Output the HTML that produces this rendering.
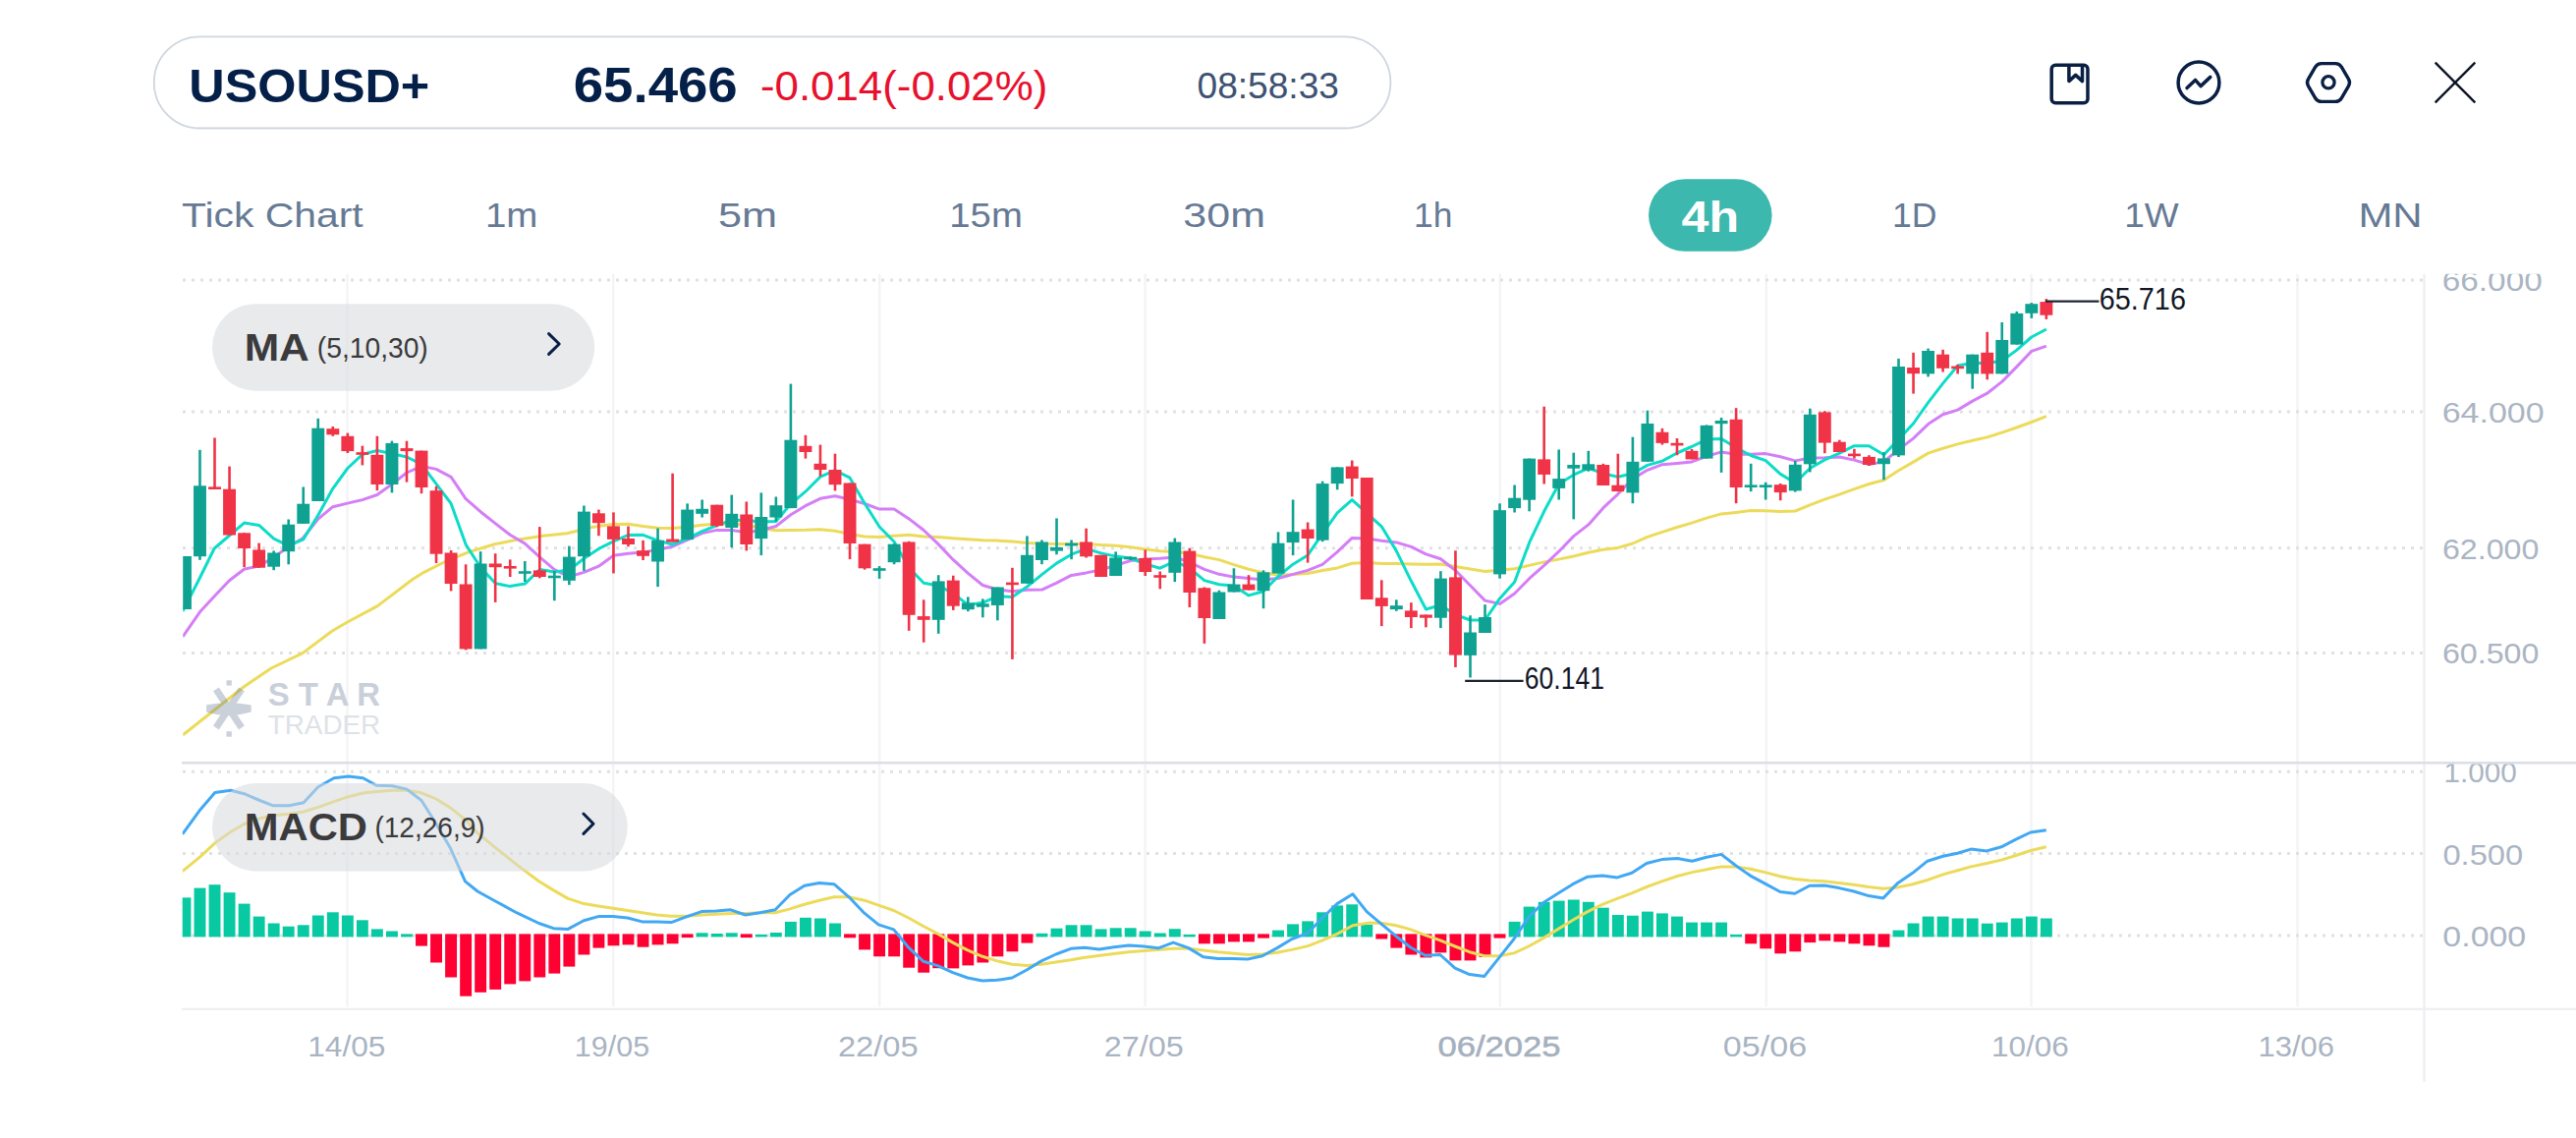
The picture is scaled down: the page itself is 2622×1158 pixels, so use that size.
<!DOCTYPE html><html><head><meta charset="utf-8"><title>USOUSD+ chart</title>
<style>html,body{margin:0;padding:0;background:#fff;overflow:hidden}svg{display:block}</style></head><body>
<svg width="2622" height="1158" viewBox="0 0 2622 1158">
<defs><clipPath id="cp"><rect x="186.2" y="278.75" width="2281" height="497"/></clipPath>
<clipPath id="cm"><rect x="185.7" y="777.5" width="2281" height="249"/></clipPath></defs>
<rect width="2622" height="1158" fill="#fff"/>
<rect x="156.8" y="37.3" width="1258.6" height="93.2" rx="46.6" fill="#fff" stroke="#cfd6df" stroke-width="1.8"/>
<g fill="none" stroke="#0a1f44" stroke-width="3.5" stroke-linejoin="round" stroke-linecap="round">
<rect x="2088.2" y="66.2" width="36.8" height="38.6" rx="4"/>
<path d="M2105.9 67 V82.6 L2112.7 76.4 L2119.5 82.6 V67"/>
<circle cx="2238" cy="84" r="20.9"/>
<path d="M2226 89.6 L2234.5 81.4 L2240 87.6 L2249.8 78.4"/>
<path d="M2349.53 87.62 Q2347.40 84.00 2349.53 80.38 L2356.67 68.22 Q2358.80 64.60 2363.00 64.60 L2377.00 64.60 Q2381.20 64.60 2383.33 68.22 L2390.47 80.38 Q2392.60 84.00 2390.47 87.62 L2383.33 99.78 Q2381.20 103.40 2377.00 103.40 L2363.00 103.40 Q2358.80 103.40 2356.67 99.78 Z" stroke-width="3.4"/>
<circle cx="2370" cy="83.8" r="6.1" stroke-width="3.3"/>
</g>
<g stroke="#0d1526" stroke-width="2.4"><line x1="2478.7" y1="63.7" x2="2519.3" y2="104.3"/><line x1="2519.3" y1="63.7" x2="2478.7" y2="104.3"/></g>
<rect x="1678" y="182.2" width="125.6" height="73.6" rx="36.8" fill="#3db8af"/>
<g stroke="#f4f4f6" stroke-width="2.5">
<line x1="353.5" y1="278.75" x2="353.5" y2="1024.2"/>
<line x1="624.2" y1="278.75" x2="624.2" y2="1024.2"/>
<line x1="895.2" y1="278.75" x2="895.2" y2="1024.2"/>
<line x1="1165.6" y1="278.75" x2="1165.6" y2="1024.2"/>
<line x1="1526.8" y1="278.75" x2="1526.8" y2="1024.2"/>
<line x1="1797.9" y1="278.75" x2="1797.9" y2="1024.2"/>
<line x1="2067.5" y1="278.75" x2="2067.5" y2="1024.2"/>
<line x1="2338.5" y1="278.75" x2="2338.5" y2="1024.2"/>
</g>
<g stroke="#e1e1e4" stroke-width="3" stroke-dasharray="3 6">
<line x1="186" y1="284.9" x2="2466" y2="284.9"/>
<line x1="186" y1="419.1" x2="2466" y2="419.1"/>
<line x1="186" y1="557.8" x2="2466" y2="557.8"/>
<line x1="186" y1="664.5" x2="2466" y2="664.5"/>
<line x1="186" y1="785.3" x2="2466" y2="785.3"/>
<line x1="186" y1="868.5" x2="2466" y2="868.5"/>
<line x1="186" y1="951.9" x2="2466" y2="951.9"/>
</g>
<line x1="2467.5" y1="278.75" x2="2467.5" y2="1101" stroke="#f0f0f3" stroke-width="2.5"/>
<line x1="185" y1="776.3" x2="2622" y2="776.3" stroke="#dcdde7" stroke-width="2.6"/>
<line x1="185" y1="1026.8" x2="2622" y2="1026.8" stroke="#eeeff2" stroke-width="2.2"/>
<g clip-path="url(#cp)">
<polyline points="186.0,748.0 248.3,698.8 276.0,680.0 308.0,664.6 337.5,642.5 352.3,633.8 384.3,616.6 420.0,589.5 429.6,583.4 454.2,571.0 478.8,561.2 503.5,553.8 528.0,548.9 552.7,545.2 577.3,542.8 602.0,536.6 626.5,533.0 624.5,533.6 639.5,533.2 654.5,535.5 669.6,537.3 684.6,537.5 699.6,536.2 714.7,534.2 729.7,533.3 744.7,532.9 759.8,534.3 774.8,537.4 789.8,539.8 804.9,539.4 819.9,539.3 835.0,538.8 850.0,540.2 865.0,543.4 880.1,546.1 895.1,546.6 910.1,545.3 925.2,544.2 940.2,546.1 955.2,546.5 970.3,547.8 985.3,548.8 1000.3,549.7 1015.4,550.1 1030.4,551.0 1045.4,552.5 1060.5,553.2 1075.5,553.4 1090.5,553.4 1105.6,553.4 1120.6,554.6 1135.7,555.2 1150.7,556.8 1165.7,558.9 1180.8,560.7 1195.8,561.6 1210.8,563.3 1225.9,566.7 1240.9,569.6 1255.9,574.6 1271.0,579.3 1286.0,582.9 1301.0,584.9 1316.1,584.5 1331.1,583.5 1346.1,580.5 1361.2,577.9 1376.2,573.2 1391.2,572.6 1406.3,573.4 1421.3,573.4 1436.4,573.9 1451.4,574.3 1466.4,574.0 1481.5,576.4 1496.5,579.0 1511.5,581.5 1526.6,580.3 1541.6,578.7 1556.6,575.4 1571.7,571.9 1586.7,569.1 1601.7,566.0 1616.8,562.3 1631.8,559.2 1646.8,557.4 1661.9,553.0 1676.9,546.3 1692.0,541.3 1707.0,536.5 1722.0,532.1 1737.1,527.1 1752.1,522.9 1767.1,521.4 1782.2,519.6 1797.2,519.7 1812.2,520.5 1827.3,520.0 1842.3,513.8 1857.3,508.2 1872.4,503.1 1887.4,497.7 1902.4,492.5 1917.5,488.5 1932.5,478.8 1947.5,470.1 1962.6,461.1 1977.6,456.3 1992.7,451.9 2007.7,448.3 2022.7,444.9 2037.8,440.1 2052.8,435.0 2067.8,429.5 2082.9,423.7" fill="none" stroke="#ecdb5b" stroke-width="3" stroke-linejoin="round"/>
<polyline points="186.0,648.0 203.4,622.8 218.2,606.8 233.4,590.8 248.4,579.2 263.4,576.0 278.5,567.4 293.5,556.3 308.2,547.7 323.8,528.1 338.8,515.7 353.8,512.1 368.9,508.6 383.9,503.5 398.9,492.8 414.0,481.0 429.0,474.4 444.0,477.4 459.1,485.4 474.1,507.6 489.1,520.7 504.2,532.6 519.2,544.2 534.3,553.1 549.3,566.8 564.3,579.6 579.4,586.8 594.4,582.4 609.4,576.2 624.5,565.2 639.5,563.2 654.5,562.1 669.6,559.2 684.6,556.2 699.6,549.4 714.7,542.6 729.7,539.4 744.7,539.6 759.8,541.8 774.8,539.5 789.8,535.5 804.9,523.7 819.9,514.7 835.0,507.3 850.0,504.8 865.0,508.3 880.1,512.5 895.1,518.1 910.1,518.0 925.2,527.9 940.2,539.5 955.2,553.9 970.3,569.7 985.3,583.3 1000.3,595.5 1015.4,600.0 1030.4,601.7 1045.4,600.3 1060.5,600.1 1075.5,593.2 1090.5,585.4 1105.6,582.9 1120.6,579.9 1135.7,575.3 1150.7,570.6 1165.7,569.0 1180.8,568.3 1195.8,567.0 1210.8,572.1 1225.9,579.3 1240.9,584.3 1255.9,587.1 1271.0,588.5 1286.0,589.9 1301.0,588.5 1316.1,584.4 1331.1,580.4 1346.1,574.4 1361.2,561.6 1376.2,547.4 1391.2,548.1 1406.3,550.3 1421.3,551.9 1436.4,556.4 1451.4,563.9 1466.4,568.7 1481.5,580.5 1496.5,595.7 1511.5,611.1 1526.6,614.4 1541.6,604.0 1556.6,588.7 1571.7,575.3 1586.7,561.2 1601.7,545.6 1616.8,533.9 1631.8,516.9 1646.8,502.8 1661.9,487.1 1676.9,478.3 1692.0,472.7 1707.0,471.4 1722.0,469.9 1737.1,464.4 1752.1,459.9 1767.1,462.3 1782.2,462.2 1797.2,461.6 1812.2,464.7 1827.3,468.9 1842.3,466.0 1857.3,465.7 1872.4,465.0 1887.4,468.1 1902.4,472.6 1917.5,469.6 1932.5,457.5 1947.5,446.1 1962.6,431.6 1977.6,421.8 1992.7,417.1 2007.7,408.1 2022.7,400.2 2037.8,388.4 2052.8,373.1 2067.8,357.4 2082.9,352.2" fill="none" stroke="#d47ef7" stroke-width="3" stroke-linejoin="round"/>
<polyline points="186.0,622.0 203.4,588.0 218.2,558.0 233.4,545.0 248.6,532.1 263.6,534.4 278.7,548.1 293.7,555.3 308.7,548.9 323.8,524.2 338.8,497.1 353.8,476.5 368.9,462.4 383.9,458.5 398.9,461.6 414.0,465.0 429.0,472.3 444.0,492.4 459.1,512.4 474.1,554.1 489.1,577.2 504.2,593.6 519.2,596.6 534.3,594.1 549.3,579.6 564.3,582.1 579.4,580.0 594.4,568.3 609.4,558.4 624.5,550.8 639.5,544.4 654.5,544.3 669.6,550.1 684.6,554.0 699.6,547.9 714.7,540.7 729.7,534.6 744.7,529.2 759.8,529.6 774.8,531.1 789.8,530.4 804.9,512.8 819.9,500.2 835.0,485.1 850.0,478.6 865.0,486.2 880.1,512.3 895.1,536.0 910.1,551.2 925.2,577.8 940.2,593.3 955.2,596.0 970.3,603.6 985.3,615.6 1000.3,613.3 1015.4,606.7 1030.4,607.4 1045.4,597.0 1060.5,584.6 1075.5,573.1 1090.5,564.2 1105.6,558.4 1120.6,562.9 1135.7,566.1 1150.7,568.0 1165.7,573.9 1180.8,578.2 1195.8,571.1 1210.8,578.2 1225.9,590.6 1240.9,594.7 1255.9,596.0 1271.0,605.9 1286.0,601.8 1301.0,586.5 1316.1,574.2 1331.1,564.9 1346.1,543.2 1361.2,521.8 1376.2,508.6 1391.2,522.2 1406.3,535.8 1421.3,560.6 1436.4,591.3 1451.4,620.0 1466.4,615.7 1481.5,625.5 1496.5,631.0 1511.5,631.0 1526.6,608.9 1541.6,592.3 1556.6,552.2 1571.7,520.3 1586.7,492.5 1601.7,483.2 1616.8,476.4 1631.8,481.9 1646.8,485.3 1661.9,481.8 1676.9,473.4 1692.0,469.1 1707.0,461.0 1722.0,454.5 1737.1,447.1 1752.1,446.5 1767.1,455.5 1782.2,463.5 1797.2,468.7 1812.2,482.4 1827.3,491.4 1842.3,476.5 1857.3,467.9 1872.4,461.2 1887.4,453.7 1902.4,453.8 1917.5,462.7 1932.5,447.1 1947.5,431.0 1962.6,409.6 1977.6,390.1 1992.7,372.0 2007.7,369.5 2022.7,369.5 2037.8,367.3 2052.8,356.1 2067.8,343.0 2082.9,335.0" fill="none" stroke="#0cdcc8" stroke-width="3" stroke-linejoin="round"/>
<g fill="rgb(106,126,155)" stroke="rgb(106,126,155)" opacity="0.35">
<path stroke="none" d="M210.1 717.3 Q232.6 713.1 255.7 717.5 L255.7 724.6 Q232.6 731.6 210.1 724.8 Z"/>
<line x1="219.9" y1="701.4" x2="245.9" y2="740.5" stroke-width="7" fill="none"/>
<line x1="245.9" y1="701.4" x2="219.9" y2="740.5" stroke-width="7" fill="none"/>
<rect stroke="none" x="230.5" y="692.3" width="5.3" height="5.3"/><rect stroke="none" x="230.5" y="744.2" width="5.3" height="5.5"/>
</g>
<rect x="187.15" y="566.0" width="2.6" height="54.0" fill="#0fa292"/>
<rect x="182.00" y="566.0" width="12.9" height="54.0" fill="#0fa292"/>
<rect x="202.18" y="457.8" width="2.6" height="112.0" fill="#0fa292"/>
<rect x="197.03" y="494.3" width="12.9" height="71.9" fill="#0fa292"/>
<rect x="217.22" y="445.5" width="2.6" height="52.5" fill="#f03346"/>
<rect x="212.07" y="495.4" width="12.9" height="2.6" fill="#f03346"/>
<rect x="232.25" y="474.6" width="2.6" height="69.9" fill="#f03346"/>
<rect x="227.11" y="497.7" width="12.9" height="46.8" fill="#f03346"/>
<rect x="247.29" y="542.3" width="2.6" height="34.9" fill="#f03346"/>
<rect x="242.14" y="542.3" width="12.9" height="15.7" fill="#f03346"/>
<rect x="262.32" y="552.6" width="2.6" height="25.1" fill="#f03346"/>
<rect x="257.18" y="559.5" width="12.9" height="18.2" fill="#f03346"/>
<rect x="277.36" y="560.5" width="2.6" height="19.7" fill="#0fa292"/>
<rect x="272.21" y="562.5" width="12.9" height="14.2" fill="#0fa292"/>
<rect x="292.39" y="528.5" width="2.6" height="45.8" fill="#0fa292"/>
<rect x="287.25" y="533.7" width="12.9" height="27.5" fill="#0fa292"/>
<rect x="307.43" y="495.5" width="2.6" height="37.4" fill="#0fa292"/>
<rect x="302.28" y="512.7" width="12.9" height="20.2" fill="#0fa292"/>
<rect x="322.46" y="425.8" width="2.6" height="84.2" fill="#0fa292"/>
<rect x="317.31" y="435.7" width="12.9" height="74.3" fill="#0fa292"/>
<rect x="337.50" y="434.0" width="2.6" height="9.8" fill="#f03346"/>
<rect x="332.35" y="436.2" width="12.9" height="6.1" fill="#f03346"/>
<rect x="352.53" y="440.6" width="2.6" height="20.4" fill="#f03346"/>
<rect x="347.38" y="443.8" width="12.9" height="15.3" fill="#f03346"/>
<rect x="367.57" y="453.7" width="2.6" height="19.7" fill="#f03346"/>
<rect x="362.42" y="460.2" width="12.9" height="2.6" fill="#f03346"/>
<rect x="382.60" y="443.8" width="2.6" height="55.4" fill="#f03346"/>
<rect x="377.45" y="462.8" width="12.9" height="30.2" fill="#f03346"/>
<rect x="397.64" y="448.7" width="2.6" height="52.7" fill="#0fa292"/>
<rect x="392.49" y="451.0" width="12.9" height="42.0" fill="#0fa292"/>
<rect x="412.68" y="448.7" width="2.6" height="41.9" fill="#f03346"/>
<rect x="407.53" y="456.1" width="12.9" height="3.0" fill="#f03346"/>
<rect x="427.71" y="458.6" width="2.6" height="43.6" fill="#f03346"/>
<rect x="422.56" y="458.6" width="12.9" height="37.4" fill="#f03346"/>
<rect x="442.74" y="494.8" width="2.6" height="78.2" fill="#f03346"/>
<rect x="437.59" y="499.2" width="12.9" height="64.5" fill="#f03346"/>
<rect x="457.78" y="560.0" width="2.6" height="41.4" fill="#f03346"/>
<rect x="452.63" y="562.5" width="12.9" height="31.5" fill="#f03346"/>
<rect x="472.81" y="574.3" width="2.6" height="87.1" fill="#f03346"/>
<rect x="467.67" y="594.5" width="12.9" height="65.9" fill="#f03346"/>
<rect x="487.85" y="561.2" width="2.6" height="99.2" fill="#0fa292"/>
<rect x="482.70" y="573.5" width="12.9" height="86.9" fill="#0fa292"/>
<rect x="502.88" y="563.2" width="2.6" height="49.7" fill="#f03346"/>
<rect x="497.74" y="573.5" width="12.9" height="3.7" fill="#f03346"/>
<rect x="517.92" y="569.4" width="2.6" height="17.6" fill="#f03346"/>
<rect x="512.77" y="576.0" width="12.9" height="2.6" fill="#f03346"/>
<rect x="532.96" y="571.0" width="2.6" height="21.0" fill="#0fa292"/>
<rect x="527.80" y="581.2" width="12.9" height="2.6" fill="#0fa292"/>
<rect x="547.99" y="536.1" width="2.6" height="52.2" fill="#f03346"/>
<rect x="542.84" y="580.4" width="12.9" height="6.6" fill="#f03346"/>
<rect x="563.03" y="580.9" width="2.6" height="30.3" fill="#0fa292"/>
<rect x="557.88" y="585.7" width="12.9" height="2.6" fill="#0fa292"/>
<rect x="578.06" y="555.6" width="2.6" height="39.6" fill="#0fa292"/>
<rect x="572.91" y="566.6" width="12.9" height="24.2" fill="#0fa292"/>
<rect x="593.10" y="514.5" width="2.6" height="66.4" fill="#0fa292"/>
<rect x="587.94" y="520.6" width="12.9" height="45.6" fill="#0fa292"/>
<rect x="608.13" y="518.6" width="2.6" height="26.6" fill="#f03346"/>
<rect x="602.98" y="522.3" width="12.9" height="9.9" fill="#f03346"/>
<rect x="623.16" y="521.4" width="2.6" height="62.0" fill="#f03346"/>
<rect x="618.01" y="535.4" width="12.9" height="13.5" fill="#f03346"/>
<rect x="638.20" y="535.5" width="2.6" height="20.7" fill="#f03346"/>
<rect x="633.05" y="548.0" width="12.9" height="6.0" fill="#f03346"/>
<rect x="653.24" y="549.8" width="2.6" height="20.2" fill="#f03346"/>
<rect x="648.08" y="560.2" width="12.9" height="5.6" fill="#f03346"/>
<rect x="668.27" y="537.5" width="2.6" height="59.6" fill="#0fa292"/>
<rect x="663.12" y="549.8" width="12.9" height="21.7" fill="#0fa292"/>
<rect x="683.31" y="481.7" width="2.6" height="69.9" fill="#f03346"/>
<rect x="678.15" y="548.6" width="12.9" height="3.0" fill="#f03346"/>
<rect x="698.34" y="512.4" width="2.6" height="36.7" fill="#0fa292"/>
<rect x="693.19" y="518.6" width="12.9" height="30.5" fill="#0fa292"/>
<rect x="713.38" y="508.5" width="2.6" height="18.0" fill="#0fa292"/>
<rect x="708.22" y="517.8" width="12.9" height="5.0" fill="#0fa292"/>
<rect x="728.41" y="513.7" width="2.6" height="22.6" fill="#f03346"/>
<rect x="723.26" y="513.7" width="12.9" height="21.4" fill="#f03346"/>
<rect x="743.44" y="503.6" width="2.6" height="53.6" fill="#0fa292"/>
<rect x="738.29" y="522.8" width="12.9" height="14.2" fill="#0fa292"/>
<rect x="758.48" y="510.5" width="2.6" height="49.9" fill="#f03346"/>
<rect x="753.33" y="523.5" width="12.9" height="30.5" fill="#f03346"/>
<rect x="773.52" y="501.4" width="2.6" height="63.7" fill="#0fa292"/>
<rect x="768.37" y="526.0" width="12.9" height="22.1" fill="#0fa292"/>
<rect x="788.55" y="505.5" width="2.6" height="25.1" fill="#0fa292"/>
<rect x="783.40" y="514.2" width="12.9" height="12.3" fill="#0fa292"/>
<rect x="803.59" y="390.6" width="2.6" height="126.5" fill="#0fa292"/>
<rect x="798.43" y="447.7" width="12.9" height="69.4" fill="#0fa292"/>
<rect x="818.62" y="442.8" width="2.6" height="23.8" fill="#f03346"/>
<rect x="813.47" y="453.8" width="12.9" height="6.2" fill="#f03346"/>
<rect x="833.65" y="452.6" width="2.6" height="32.0" fill="#f03346"/>
<rect x="828.50" y="471.8" width="12.9" height="6.2" fill="#f03346"/>
<rect x="848.69" y="461.7" width="2.6" height="37.7" fill="#f03346"/>
<rect x="843.54" y="478.0" width="12.9" height="15.2" fill="#f03346"/>
<rect x="863.73" y="491.5" width="2.6" height="77.6" fill="#f03346"/>
<rect x="858.58" y="491.5" width="12.9" height="61.5" fill="#f03346"/>
<rect x="878.76" y="553.7" width="2.6" height="25.9" fill="#f03346"/>
<rect x="873.61" y="553.7" width="12.9" height="24.6" fill="#f03346"/>
<rect x="893.80" y="576.1" width="2.6" height="12.8" fill="#0fa292"/>
<rect x="888.64" y="578.2" width="12.9" height="2.6" fill="#0fa292"/>
<rect x="908.83" y="553.2" width="2.6" height="21.0" fill="#0fa292"/>
<rect x="903.68" y="553.7" width="12.9" height="18.5" fill="#0fa292"/>
<rect x="923.87" y="550.8" width="2.6" height="91.0" fill="#f03346"/>
<rect x="918.71" y="551.5" width="12.9" height="74.3" fill="#f03346"/>
<rect x="938.90" y="610.3" width="2.6" height="43.4" fill="#f03346"/>
<rect x="933.75" y="627.1" width="12.9" height="3.7" fill="#f03346"/>
<rect x="953.93" y="585.2" width="2.6" height="59.6" fill="#0fa292"/>
<rect x="948.78" y="591.4" width="12.9" height="39.4" fill="#0fa292"/>
<rect x="968.97" y="585.7" width="2.6" height="35.2" fill="#f03346"/>
<rect x="963.82" y="590.6" width="12.9" height="26.1" fill="#f03346"/>
<rect x="984.01" y="607.4" width="2.6" height="14.8" fill="#0fa292"/>
<rect x="978.86" y="613.5" width="12.9" height="6.7" fill="#0fa292"/>
<rect x="999.04" y="609.4" width="2.6" height="18.9" fill="#0fa292"/>
<rect x="993.89" y="614.3" width="12.9" height="3.4" fill="#0fa292"/>
<rect x="1014.08" y="597.5" width="2.6" height="33.8" fill="#0fa292"/>
<rect x="1008.92" y="597.5" width="12.9" height="18.5" fill="#0fa292"/>
<rect x="1029.11" y="577.8" width="2.6" height="93.1" fill="#f03346"/>
<rect x="1023.96" y="592.6" width="12.9" height="2.6" fill="#f03346"/>
<rect x="1044.14" y="545.4" width="2.6" height="48.4" fill="#0fa292"/>
<rect x="1038.99" y="564.8" width="12.9" height="29.0" fill="#0fa292"/>
<rect x="1059.18" y="549.5" width="2.6" height="24.7" fill="#0fa292"/>
<rect x="1054.03" y="551.5" width="12.9" height="18.5" fill="#0fa292"/>
<rect x="1074.22" y="527.4" width="2.6" height="36.9" fill="#0fa292"/>
<rect x="1069.07" y="556.9" width="12.9" height="3.7" fill="#0fa292"/>
<rect x="1089.25" y="549.5" width="2.6" height="19.7" fill="#0fa292"/>
<rect x="1084.10" y="552.7" width="12.9" height="2.8" fill="#0fa292"/>
<rect x="1104.29" y="537.7" width="2.6" height="29.8" fill="#f03346"/>
<rect x="1099.13" y="551.5" width="12.9" height="14.8" fill="#f03346"/>
<rect x="1119.32" y="564.8" width="2.6" height="22.2" fill="#f03346"/>
<rect x="1114.17" y="564.8" width="12.9" height="22.2" fill="#f03346"/>
<rect x="1134.36" y="561.4" width="2.6" height="24.6" fill="#0fa292"/>
<rect x="1129.20" y="567.5" width="12.9" height="18.5" fill="#0fa292"/>
<rect x="1149.39" y="566.3" width="2.6" height="3.7" fill="#0fa292"/>
<rect x="1144.24" y="566.7" width="12.9" height="2.6" fill="#0fa292"/>
<rect x="1164.42" y="559.4" width="2.6" height="26.6" fill="#f03346"/>
<rect x="1159.27" y="568.0" width="12.9" height="14.0" fill="#f03346"/>
<rect x="1179.46" y="581.5" width="2.6" height="17.8" fill="#f03346"/>
<rect x="1174.31" y="585.2" width="12.9" height="2.6" fill="#f03346"/>
<rect x="1194.50" y="547.6" width="2.6" height="44.5" fill="#0fa292"/>
<rect x="1189.35" y="551.5" width="12.9" height="31.3" fill="#0fa292"/>
<rect x="1209.53" y="557.7" width="2.6" height="60.3" fill="#f03346"/>
<rect x="1204.38" y="560.6" width="12.9" height="42.4" fill="#f03346"/>
<rect x="1224.57" y="597.5" width="2.6" height="57.4" fill="#f03346"/>
<rect x="1219.41" y="598.3" width="12.9" height="30.7" fill="#f03346"/>
<rect x="1239.60" y="600.7" width="2.6" height="29.3" fill="#0fa292"/>
<rect x="1234.45" y="602.5" width="12.9" height="27.5" fill="#0fa292"/>
<rect x="1254.63" y="578.3" width="2.6" height="24.2" fill="#0fa292"/>
<rect x="1249.48" y="594.6" width="12.9" height="7.9" fill="#0fa292"/>
<rect x="1269.67" y="585.2" width="2.6" height="15.3" fill="#f03346"/>
<rect x="1264.52" y="594.6" width="12.9" height="5.9" fill="#f03346"/>
<rect x="1284.71" y="580.3" width="2.6" height="38.9" fill="#0fa292"/>
<rect x="1279.56" y="582.3" width="12.9" height="18.9" fill="#0fa292"/>
<rect x="1299.74" y="541.4" width="2.6" height="42.1" fill="#0fa292"/>
<rect x="1294.59" y="552.7" width="12.9" height="30.8" fill="#0fa292"/>
<rect x="1314.78" y="508.5" width="2.6" height="56.6" fill="#0fa292"/>
<rect x="1309.62" y="541.2" width="12.9" height="10.9" fill="#0fa292"/>
<rect x="1329.81" y="531.5" width="2.6" height="41.1" fill="#f03346"/>
<rect x="1324.66" y="538.6" width="12.9" height="9.4" fill="#f03346"/>
<rect x="1344.85" y="489.7" width="2.6" height="61.5" fill="#0fa292"/>
<rect x="1339.69" y="492.1" width="12.9" height="57.6" fill="#0fa292"/>
<rect x="1359.88" y="475.4" width="2.6" height="22.9" fill="#0fa292"/>
<rect x="1354.73" y="475.4" width="12.9" height="16.7" fill="#0fa292"/>
<rect x="1374.92" y="468.5" width="2.6" height="36.9" fill="#f03346"/>
<rect x="1369.77" y="474.6" width="12.9" height="12.4" fill="#f03346"/>
<rect x="1389.95" y="486.0" width="2.6" height="124.0" fill="#f03346"/>
<rect x="1384.80" y="486.0" width="12.9" height="124.0" fill="#f03346"/>
<rect x="1404.99" y="590.3" width="2.6" height="46.8" fill="#f03346"/>
<rect x="1399.84" y="608.3" width="12.9" height="8.6" fill="#f03346"/>
<rect x="1420.02" y="610.3" width="2.6" height="11.5" fill="#0fa292"/>
<rect x="1414.87" y="616.2" width="12.9" height="3.9" fill="#0fa292"/>
<rect x="1435.06" y="613.2" width="2.6" height="25.9" fill="#f03346"/>
<rect x="1429.90" y="621.4" width="12.9" height="6.6" fill="#f03346"/>
<rect x="1450.09" y="625.5" width="2.6" height="12.8" fill="#f03346"/>
<rect x="1444.94" y="625.5" width="12.9" height="3.2" fill="#f03346"/>
<rect x="1465.12" y="581.2" width="2.6" height="57.9" fill="#0fa292"/>
<rect x="1459.97" y="588.6" width="12.9" height="40.1" fill="#0fa292"/>
<rect x="1480.16" y="560.3" width="2.6" height="118.7" fill="#f03346"/>
<rect x="1475.01" y="587.4" width="12.9" height="79.2" fill="#f03346"/>
<rect x="1495.20" y="626.3" width="2.6" height="63.2" fill="#0fa292"/>
<rect x="1490.05" y="643.5" width="12.9" height="23.4" fill="#0fa292"/>
<rect x="1510.23" y="615.2" width="2.6" height="28.8" fill="#0fa292"/>
<rect x="1505.08" y="628.0" width="12.9" height="16.0" fill="#0fa292"/>
<rect x="1525.27" y="512.3" width="2.6" height="76.3" fill="#0fa292"/>
<rect x="1520.12" y="519.2" width="12.9" height="65.2" fill="#0fa292"/>
<rect x="1540.30" y="493.5" width="2.6" height="28.0" fill="#0fa292"/>
<rect x="1535.15" y="506.7" width="12.9" height="10.4" fill="#0fa292"/>
<rect x="1555.34" y="466.6" width="2.6" height="53.7" fill="#0fa292"/>
<rect x="1550.18" y="466.6" width="12.9" height="42.1" fill="#0fa292"/>
<rect x="1570.37" y="413.7" width="2.6" height="78.8" fill="#f03346"/>
<rect x="1565.22" y="467.4" width="12.9" height="15.5" fill="#f03346"/>
<rect x="1585.41" y="457.5" width="2.6" height="51.0" fill="#0fa292"/>
<rect x="1580.26" y="487.1" width="12.9" height="9.8" fill="#0fa292"/>
<rect x="1600.44" y="460.7" width="2.6" height="67.7" fill="#0fa292"/>
<rect x="1595.29" y="473.0" width="12.9" height="3.7" fill="#0fa292"/>
<rect x="1615.48" y="458.8" width="2.6" height="20.9" fill="#0fa292"/>
<rect x="1610.33" y="472.3" width="12.9" height="6.2" fill="#0fa292"/>
<rect x="1630.51" y="471.8" width="2.6" height="22.2" fill="#f03346"/>
<rect x="1625.36" y="473.0" width="12.9" height="21.0" fill="#f03346"/>
<rect x="1645.55" y="461.7" width="2.6" height="38.4" fill="#f03346"/>
<rect x="1640.39" y="493.7" width="12.9" height="6.4" fill="#f03346"/>
<rect x="1660.58" y="444.7" width="2.6" height="67.5" fill="#0fa292"/>
<rect x="1655.43" y="469.8" width="12.9" height="31.6" fill="#0fa292"/>
<rect x="1675.62" y="417.7" width="2.6" height="52.1" fill="#0fa292"/>
<rect x="1670.46" y="431.0" width="12.9" height="38.8" fill="#0fa292"/>
<rect x="1690.65" y="435.9" width="2.6" height="16.7" fill="#f03346"/>
<rect x="1685.50" y="439.8" width="12.9" height="11.1" fill="#f03346"/>
<rect x="1705.69" y="446.0" width="2.6" height="17.2" fill="#f03346"/>
<rect x="1700.54" y="450.8" width="12.9" height="2.6" fill="#f03346"/>
<rect x="1720.72" y="457.0" width="2.6" height="10.4" fill="#f03346"/>
<rect x="1715.57" y="458.8" width="12.9" height="8.6" fill="#f03346"/>
<rect x="1735.76" y="432.4" width="2.6" height="34.2" fill="#0fa292"/>
<rect x="1730.61" y="432.9" width="12.9" height="33.7" fill="#0fa292"/>
<rect x="1750.79" y="425.0" width="2.6" height="55.9" fill="#0fa292"/>
<rect x="1745.64" y="428.0" width="12.9" height="3.2" fill="#0fa292"/>
<rect x="1765.83" y="415.2" width="2.6" height="97.0" fill="#f03346"/>
<rect x="1760.67" y="426.8" width="12.9" height="69.2" fill="#f03346"/>
<rect x="1780.86" y="471.8" width="2.6" height="28.3" fill="#0fa292"/>
<rect x="1775.71" y="493.4" width="12.9" height="2.6" fill="#0fa292"/>
<rect x="1795.90" y="490.8" width="2.6" height="17.7" fill="#0fa292"/>
<rect x="1790.75" y="493.4" width="12.9" height="2.6" fill="#0fa292"/>
<rect x="1810.93" y="492.0" width="2.6" height="17.2" fill="#f03346"/>
<rect x="1805.78" y="493.2" width="12.9" height="7.9" fill="#f03346"/>
<rect x="1825.97" y="469.1" width="2.6" height="31.5" fill="#0fa292"/>
<rect x="1820.82" y="472.8" width="12.9" height="26.6" fill="#0fa292"/>
<rect x="1841.00" y="415.7" width="2.6" height="64.7" fill="#0fa292"/>
<rect x="1835.85" y="421.8" width="12.9" height="50.5" fill="#0fa292"/>
<rect x="1856.04" y="418.2" width="2.6" height="43.0" fill="#f03346"/>
<rect x="1850.88" y="419.4" width="12.9" height="31.2" fill="#f03346"/>
<rect x="1871.07" y="447.7" width="2.6" height="12.3" fill="#f03346"/>
<rect x="1865.92" y="449.7" width="12.9" height="10.3" fill="#f03346"/>
<rect x="1886.11" y="456.8" width="2.6" height="9.8" fill="#f03346"/>
<rect x="1880.95" y="461.6" width="12.9" height="2.6" fill="#f03346"/>
<rect x="1901.14" y="463.2" width="2.6" height="10.8" fill="#f03346"/>
<rect x="1895.99" y="464.9" width="12.9" height="8.1" fill="#f03346"/>
<rect x="1916.18" y="460.2" width="2.6" height="28.0" fill="#0fa292"/>
<rect x="1911.03" y="466.4" width="12.9" height="5.8" fill="#0fa292"/>
<rect x="1931.21" y="364.9" width="2.6" height="100.2" fill="#0fa292"/>
<rect x="1926.06" y="373.0" width="12.9" height="90.4" fill="#0fa292"/>
<rect x="1946.25" y="358.8" width="2.6" height="41.8" fill="#f03346"/>
<rect x="1941.10" y="374.0" width="12.9" height="6.2" fill="#f03346"/>
<rect x="1961.28" y="354.6" width="2.6" height="28.8" fill="#0fa292"/>
<rect x="1956.13" y="357.0" width="12.9" height="23.4" fill="#0fa292"/>
<rect x="1976.32" y="355.8" width="2.6" height="22.7" fill="#f03346"/>
<rect x="1971.16" y="360.7" width="12.9" height="14.1" fill="#f03346"/>
<rect x="1991.35" y="371.1" width="2.6" height="9.3" fill="#f03346"/>
<rect x="1986.20" y="372.6" width="12.9" height="2.6" fill="#f03346"/>
<rect x="2006.39" y="360.7" width="2.6" height="35.0" fill="#0fa292"/>
<rect x="2001.24" y="360.7" width="12.9" height="19.7" fill="#0fa292"/>
<rect x="2021.42" y="337.8" width="2.6" height="48.5" fill="#f03346"/>
<rect x="2016.27" y="358.8" width="12.9" height="21.6" fill="#f03346"/>
<rect x="2036.46" y="328.0" width="2.6" height="52.4" fill="#0fa292"/>
<rect x="2031.31" y="346.0" width="12.9" height="34.4" fill="#0fa292"/>
<rect x="2051.49" y="316.9" width="2.6" height="33.7" fill="#0fa292"/>
<rect x="2046.34" y="318.9" width="12.9" height="31.7" fill="#0fa292"/>
<rect x="2066.52" y="308.1" width="2.6" height="15.8" fill="#0fa292"/>
<rect x="2061.38" y="309.2" width="12.9" height="9.6" fill="#0fa292"/>
<rect x="2081.56" y="304.1" width="2.6" height="20.8" fill="#f03346"/>
<rect x="2076.41" y="307.1" width="12.9" height="13.6" fill="#f03346"/>
<line x1="2082" y1="306.6" x2="2136.5" y2="306.6" stroke="#1e2533" stroke-width="2.2"/>
<line x1="1491.2" y1="692.8" x2="1550.6" y2="692.8" stroke="#1e2533" stroke-width="2.2"/>
</g>
<rect x="216" y="309.2" width="389.2" height="88.5" rx="44.25" fill="rgb(215,218,222)" fill-opacity="0.56"/>
<path d="M558.6 339.6 L569.2 350 L558.6 360.4" fill="none" stroke="#0a1f44" stroke-width="3" stroke-linecap="round" stroke-linejoin="round"/>
<g clip-path="url(#cm)">
<rect x="182.50" y="913.4" width="11.9" height="40.0" fill="#08c9a1"/>
<rect x="197.53" y="903.6" width="11.9" height="49.8" fill="#08c9a1"/>
<rect x="212.57" y="900.2" width="11.9" height="53.2" fill="#08c9a1"/>
<rect x="227.61" y="908.2" width="11.9" height="45.2" fill="#08c9a1"/>
<rect x="242.64" y="919.6" width="11.9" height="33.8" fill="#08c9a1"/>
<rect x="257.68" y="932.6" width="11.9" height="20.8" fill="#08c9a1"/>
<rect x="272.71" y="939.5" width="11.9" height="13.9" fill="#08c9a1"/>
<rect x="287.75" y="942.7" width="11.9" height="10.7" fill="#08c9a1"/>
<rect x="302.78" y="941.3" width="11.9" height="12.1" fill="#08c9a1"/>
<rect x="317.81" y="931.5" width="11.9" height="21.9" fill="#08c9a1"/>
<rect x="332.85" y="928.3" width="11.9" height="25.1" fill="#08c9a1"/>
<rect x="347.88" y="931.5" width="11.9" height="21.9" fill="#08c9a1"/>
<rect x="362.92" y="936.3" width="11.9" height="17.1" fill="#08c9a1"/>
<rect x="377.95" y="945.4" width="11.9" height="8.0" fill="#08c9a1"/>
<rect x="392.99" y="947.5" width="11.9" height="5.9" fill="#08c9a1"/>
<rect x="408.03" y="950.4" width="11.9" height="3.0" fill="#08c9a1"/>
<rect x="423.06" y="950.4" width="11.9" height="12.2" fill="#ff0033"/>
<rect x="438.09" y="950.4" width="11.9" height="29.1" fill="#ff0033"/>
<rect x="453.13" y="950.4" width="11.9" height="44.1" fill="#ff0033"/>
<rect x="468.17" y="950.4" width="11.9" height="63.3" fill="#ff0033"/>
<rect x="483.20" y="950.4" width="11.9" height="59.4" fill="#ff0033"/>
<rect x="498.24" y="950.4" width="11.9" height="56.5" fill="#ff0033"/>
<rect x="513.27" y="950.4" width="11.9" height="51.0" fill="#ff0033"/>
<rect x="528.30" y="950.4" width="11.9" height="48.0" fill="#ff0033"/>
<rect x="543.34" y="950.4" width="11.9" height="44.1" fill="#ff0033"/>
<rect x="558.38" y="950.4" width="11.9" height="40.2" fill="#ff0033"/>
<rect x="573.41" y="950.4" width="11.9" height="33.2" fill="#ff0033"/>
<rect x="588.44" y="950.4" width="11.9" height="21.1" fill="#ff0033"/>
<rect x="603.48" y="950.4" width="11.9" height="14.2" fill="#ff0033"/>
<rect x="618.51" y="950.4" width="11.9" height="11.9" fill="#ff0033"/>
<rect x="633.55" y="950.4" width="11.9" height="11.0" fill="#ff0033"/>
<rect x="648.58" y="950.4" width="11.9" height="13.3" fill="#ff0033"/>
<rect x="663.62" y="950.4" width="11.9" height="11.0" fill="#ff0033"/>
<rect x="678.65" y="950.4" width="11.9" height="9.9" fill="#ff0033"/>
<rect x="693.69" y="950.4" width="11.9" height="3.7" fill="#ff0033"/>
<rect x="708.72" y="949.3" width="11.9" height="4.1" fill="#08c9a1"/>
<rect x="723.76" y="950.0" width="11.9" height="3.4" fill="#08c9a1"/>
<rect x="738.79" y="949.3" width="11.9" height="4.1" fill="#08c9a1"/>
<rect x="753.83" y="950.4" width="11.9" height="3.7" fill="#ff0033"/>
<rect x="768.87" y="950.9" width="11.9" height="2.5" fill="#08c9a1"/>
<rect x="783.90" y="949.0" width="11.9" height="4.4" fill="#08c9a1"/>
<rect x="798.93" y="937.9" width="11.9" height="15.5" fill="#08c9a1"/>
<rect x="813.97" y="933.8" width="11.9" height="19.6" fill="#08c9a1"/>
<rect x="829.00" y="934.5" width="11.9" height="18.9" fill="#08c9a1"/>
<rect x="844.04" y="939.5" width="11.9" height="13.9" fill="#08c9a1"/>
<rect x="859.08" y="950.4" width="11.9" height="3.9" fill="#ff0033"/>
<rect x="874.11" y="950.4" width="11.9" height="16.0" fill="#ff0033"/>
<rect x="889.14" y="950.4" width="11.9" height="22.9" fill="#ff0033"/>
<rect x="904.18" y="950.4" width="11.9" height="22.9" fill="#ff0033"/>
<rect x="919.21" y="950.4" width="11.9" height="34.3" fill="#ff0033"/>
<rect x="934.25" y="950.4" width="11.9" height="39.3" fill="#ff0033"/>
<rect x="949.28" y="950.4" width="11.9" height="34.8" fill="#ff0033"/>
<rect x="964.32" y="950.4" width="11.9" height="35.0" fill="#ff0033"/>
<rect x="979.36" y="950.4" width="11.9" height="32.0" fill="#ff0033"/>
<rect x="994.39" y="950.4" width="11.9" height="29.1" fill="#ff0033"/>
<rect x="1009.42" y="950.4" width="11.9" height="22.9" fill="#ff0033"/>
<rect x="1024.46" y="950.4" width="11.9" height="17.9" fill="#ff0033"/>
<rect x="1039.49" y="950.4" width="11.9" height="9.2" fill="#ff0033"/>
<rect x="1054.53" y="949.8" width="11.9" height="3.6" fill="#08c9a1"/>
<rect x="1069.57" y="944.7" width="11.9" height="8.7" fill="#08c9a1"/>
<rect x="1084.60" y="941.3" width="11.9" height="12.1" fill="#08c9a1"/>
<rect x="1099.63" y="941.3" width="11.9" height="12.1" fill="#08c9a1"/>
<rect x="1114.67" y="945.4" width="11.9" height="8.0" fill="#08c9a1"/>
<rect x="1129.70" y="944.3" width="11.9" height="9.1" fill="#08c9a1"/>
<rect x="1144.74" y="944.3" width="11.9" height="9.1" fill="#08c9a1"/>
<rect x="1159.77" y="947.5" width="11.9" height="5.9" fill="#08c9a1"/>
<rect x="1174.81" y="949.5" width="11.9" height="3.9" fill="#08c9a1"/>
<rect x="1189.85" y="945.2" width="11.9" height="8.2" fill="#08c9a1"/>
<rect x="1204.88" y="950.9" width="11.9" height="2.5" fill="#08c9a1"/>
<rect x="1219.91" y="950.4" width="11.9" height="9.9" fill="#ff0033"/>
<rect x="1234.95" y="950.4" width="11.9" height="9.9" fill="#ff0033"/>
<rect x="1249.98" y="950.4" width="11.9" height="8.0" fill="#ff0033"/>
<rect x="1265.02" y="950.4" width="11.9" height="8.0" fill="#ff0033"/>
<rect x="1280.06" y="950.4" width="11.9" height="4.2" fill="#ff0033"/>
<rect x="1295.09" y="946.6" width="11.9" height="6.8" fill="#08c9a1"/>
<rect x="1310.12" y="940.4" width="11.9" height="13.0" fill="#08c9a1"/>
<rect x="1325.16" y="937.4" width="11.9" height="16.0" fill="#08c9a1"/>
<rect x="1340.19" y="928.3" width="11.9" height="25.1" fill="#08c9a1"/>
<rect x="1355.23" y="921.4" width="11.9" height="32.0" fill="#08c9a1"/>
<rect x="1370.27" y="920.3" width="11.9" height="33.1" fill="#08c9a1"/>
<rect x="1385.30" y="941.0" width="11.9" height="12.4" fill="#08c9a1"/>
<rect x="1400.34" y="950.4" width="11.9" height="5.1" fill="#ff0033"/>
<rect x="1415.37" y="950.4" width="11.9" height="14.2" fill="#ff0033"/>
<rect x="1430.40" y="950.4" width="11.9" height="21.1" fill="#ff0033"/>
<rect x="1445.44" y="950.4" width="11.9" height="24.0" fill="#ff0033"/>
<rect x="1460.47" y="950.4" width="11.9" height="19.0" fill="#ff0033"/>
<rect x="1475.51" y="950.4" width="11.9" height="27.0" fill="#ff0033"/>
<rect x="1490.55" y="950.4" width="11.9" height="27.0" fill="#ff0033"/>
<rect x="1505.58" y="950.4" width="11.9" height="23.6" fill="#ff0033"/>
<rect x="1520.62" y="950.4" width="11.9" height="4.2" fill="#ff0033"/>
<rect x="1535.65" y="937.9" width="11.9" height="15.5" fill="#08c9a1"/>
<rect x="1550.68" y="922.6" width="11.9" height="30.8" fill="#08c9a1"/>
<rect x="1565.72" y="917.8" width="11.9" height="35.6" fill="#08c9a1"/>
<rect x="1580.76" y="916.6" width="11.9" height="36.8" fill="#08c9a1"/>
<rect x="1595.79" y="915.5" width="11.9" height="37.9" fill="#08c9a1"/>
<rect x="1610.83" y="917.8" width="11.9" height="35.6" fill="#08c9a1"/>
<rect x="1625.86" y="923.7" width="11.9" height="29.7" fill="#08c9a1"/>
<rect x="1640.89" y="931.0" width="11.9" height="22.4" fill="#08c9a1"/>
<rect x="1655.93" y="931.7" width="11.9" height="21.7" fill="#08c9a1"/>
<rect x="1670.96" y="927.6" width="11.9" height="25.8" fill="#08c9a1"/>
<rect x="1686.00" y="929.4" width="11.9" height="24.0" fill="#08c9a1"/>
<rect x="1701.04" y="932.6" width="11.9" height="20.8" fill="#08c9a1"/>
<rect x="1716.07" y="938.6" width="11.9" height="14.8" fill="#08c9a1"/>
<rect x="1731.11" y="938.6" width="11.9" height="14.8" fill="#08c9a1"/>
<rect x="1746.14" y="938.6" width="11.9" height="14.8" fill="#08c9a1"/>
<rect x="1761.17" y="950.9" width="11.9" height="2.5" fill="#08c9a1"/>
<rect x="1776.21" y="950.4" width="11.9" height="9.9" fill="#ff0033"/>
<rect x="1791.25" y="950.4" width="11.9" height="14.9" fill="#ff0033"/>
<rect x="1806.28" y="950.4" width="11.9" height="19.9" fill="#ff0033"/>
<rect x="1821.32" y="950.4" width="11.9" height="17.9" fill="#ff0033"/>
<rect x="1836.35" y="950.4" width="11.9" height="8.7" fill="#ff0033"/>
<rect x="1851.38" y="950.4" width="11.9" height="6.9" fill="#ff0033"/>
<rect x="1866.42" y="950.4" width="11.9" height="8.0" fill="#ff0033"/>
<rect x="1881.45" y="950.4" width="11.9" height="9.9" fill="#ff0033"/>
<rect x="1896.49" y="950.4" width="11.9" height="11.9" fill="#ff0033"/>
<rect x="1911.53" y="950.4" width="11.9" height="13.3" fill="#ff0033"/>
<rect x="1926.56" y="946.6" width="11.9" height="6.8" fill="#08c9a1"/>
<rect x="1941.60" y="939.5" width="11.9" height="13.9" fill="#08c9a1"/>
<rect x="1956.63" y="932.6" width="11.9" height="20.8" fill="#08c9a1"/>
<rect x="1971.66" y="932.6" width="11.9" height="20.8" fill="#08c9a1"/>
<rect x="1986.70" y="934.5" width="11.9" height="18.9" fill="#08c9a1"/>
<rect x="2001.74" y="934.5" width="11.9" height="18.9" fill="#08c9a1"/>
<rect x="2016.77" y="939.7" width="11.9" height="13.7" fill="#08c9a1"/>
<rect x="2031.81" y="938.6" width="11.9" height="14.8" fill="#08c9a1"/>
<rect x="2046.84" y="934.5" width="11.9" height="18.9" fill="#08c9a1"/>
<rect x="2061.88" y="932.6" width="11.9" height="20.8" fill="#08c9a1"/>
<rect x="2076.91" y="934.5" width="11.9" height="18.9" fill="#08c9a1"/>
<polyline points="185.7,886.5 204.0,871.6 218.8,857.9 234.8,846.5 248.5,838.5 264.5,832.8 278.2,829.8 294.2,828.2 309.0,826.0 323.9,821.4 339.9,815.7 354.7,810.7 369.6,807.0 383.3,805.4 399.3,804.3 414.1,804.3 427.8,806.5 442.7,812.3 458.7,822.1 473.5,834.0 486.1,847.7 502.8,861.4 525.7,879.6 548.5,896.8 563.4,905.9 578.2,914.4 594.2,919.6 609.0,921.9 623.9,924.2 638.7,926.5 653.6,928.7 668.4,931.0 683.3,932.2 699.3,932.2 714.1,931.0 729.0,930.3 743.8,929.4 758.7,929.4 773.5,928.7 789.1,928.7 804.0,924.9 818.8,920.3 833.9,916.2 849.0,912.8 864.1,912.8 879.8,916.2 894.2,921.2 909.7,926.5 924.8,934.0 939.9,942.5 955.0,950.4 969.8,959.1 984.9,966.9 1000.0,973.3 1015.0,977.9 1030.1,981.3 1045.0,982.4 1060.0,981.3 1074.9,979.0 1090.0,976.7 1102.8,974.4 1125.7,971.5 1148.5,968.7 1171.4,966.9 1194.2,965.3 1209.7,965.3 1224.8,966.9 1239.9,968.7 1269.8,971.5 1284.9,971.0 1300.0,969.2 1315.0,966.4 1331.3,962.6 1346.1,956.8 1361.0,950.4 1376.9,941.8 1393.7,939.0 1407.4,939.5 1421.1,941.8 1436.0,945.9 1450.8,951.6 1465.9,956.8 1481.0,963.0 1495.8,968.7 1510.9,972.8 1526.0,972.8 1541.0,969.9 1555.9,963.0 1571.0,954.6 1586.0,945.4 1600.9,936.3 1616.0,927.6 1631.0,920.3 1646.1,914.4 1661.0,908.9 1676.0,902.5 1691.4,896.8 1707.4,891.5 1722.3,887.6 1737.1,884.7 1752.0,881.9 1766.8,881.9 1781.6,884.2 1796.5,887.6 1812.0,891.7 1826.9,894.5 1841.9,896.1 1857.0,896.8 1871.9,898.4 1886.9,900.2 1902.0,902.5 1916.9,904.3 1931.9,902.9 1946.8,899.7 1962.8,895.2 1977.7,889.9 1992.5,885.8 2006.2,881.9 2022.2,878.5 2037.1,875.1 2051.9,870.5 2066.8,865.5 2082.8,861.8" fill="none" stroke="#ecdb5b" stroke-width="3" stroke-linejoin="round"/>
<polyline points="185.7,848.8 204.0,823.7 218.8,806.5 234.8,804.3 248.5,807.7 264.5,814.5 278.2,819.8 294.2,819.8 309.0,816.8 323.9,800.8 339.9,791.7 354.7,790.1 369.6,791.7 383.3,799.2 399.3,799.7 414.1,803.1 429.0,814.5 442.7,836.2 458.7,863.6 473.5,896.8 486.1,907.0 502.8,916.2 525.7,928.7 548.5,939.5 563.4,944.7 578.2,945.4 594.2,936.7 609.0,932.6 623.9,932.6 638.7,934.0 653.6,937.9 668.4,937.9 683.3,938.6 699.3,932.6 714.1,927.6 729.0,927.1 743.8,925.8 758.7,931.0 773.5,928.7 789.1,925.8 804.0,910.5 818.8,901.3 833.9,898.6 849.0,899.7 864.1,912.8 879.8,929.2 894.2,940.9 909.7,945.9 924.8,964.2 939.9,978.3 955.0,982.9 969.8,989.7 984.9,995.0 1000.0,998.0 1015.0,997.3 1030.1,995.0 1045.0,987.0 1060.0,977.9 1074.9,971.0 1090.0,965.3 1104.0,964.2 1118.8,966.0 1133.9,963.7 1149.0,961.9 1164.1,963.0 1178.9,964.8 1194.2,959.1 1209.7,964.6 1224.8,973.7 1239.9,975.6 1255.0,975.6 1269.8,976.0 1284.9,972.8 1300.0,964.6 1315.0,955.5 1331.3,949.3 1346.1,934.0 1361.0,919.6 1376.9,909.8 1391.1,927.6 1407.4,941.3 1421.1,952.7 1436.0,964.2 1450.8,972.2 1465.9,971.5 1481.0,985.2 1495.8,991.6 1510.9,993.4 1526.0,974.4 1541.0,955.5 1555.9,933.3 1571.0,918.5 1586.0,908.9 1600.9,899.7 1616.0,892.2 1631.0,891.1 1646.1,892.9 1661.0,888.3 1676.0,878.5 1691.4,874.6 1707.4,873.5 1722.3,876.2 1737.1,872.3 1752.0,869.4 1766.8,880.8 1781.6,891.1 1796.5,899.1 1812.0,907.5 1826.9,909.3 1841.9,901.3 1857.0,900.9 1871.9,903.6 1886.9,907.0 1902.0,911.6 1916.9,913.9 1931.9,898.4 1946.8,888.3 1961.9,876.2 1977.7,871.2 1992.5,868.2 2006.2,864.1 2022.2,865.9 2037.1,861.8 2051.9,854.1 2066.8,847.0 2082.8,844.7" fill="none" stroke="#41a8f4" stroke-width="3" stroke-linejoin="round"/>
</g>
<rect x="216" y="797" width="422.7" height="89.5" rx="44.75" fill="rgb(215,218,222)" fill-opacity="0.56"/>
<path d="M593.9 828 L604 838.2 L593.9 848.4" fill="none" stroke="#0a1f44" stroke-width="3" stroke-linecap="round" stroke-linejoin="round"/>
<g>
<text transform="translate(192.30,103.80) scale(1.0328,1)" font-family='"Liberation Sans", sans-serif' font-weight="bold" font-size="48.8" fill="#041f48">USOUSD+</text>
<text transform="translate(583.77,104.10) scale(1.1137,1)" font-family='"Liberation Sans", sans-serif' font-weight="bold" font-size="49.0" fill="#041f48">65.466</text>
<text transform="translate(773.96,101.50) scale(1.0195,1)" font-family='"Liberation Sans", sans-serif' font-weight="normal" font-size="43.0" fill="#e8112d">-0.014(-0.02%)</text>
<text transform="translate(1218.59,100.00) scale(1.0129,1)" font-family='"Liberation Sans", sans-serif' font-weight="normal" font-size="36.6" fill="#3e5272">08:58:33</text>
<text transform="translate(185.03,230.90) scale(1.1675,1)" font-family='"Liberation Sans", sans-serif' font-weight="normal" font-size="35.0" fill="#667a95">Tick Chart</text>
<text transform="translate(493.90,230.90) scale(1.1000,1)" font-family='"Liberation Sans", sans-serif' font-weight="normal" font-size="35.0" fill="#667a95">1m</text>
<text transform="translate(731.03,230.90) scale(1.2356,1)" font-family='"Liberation Sans", sans-serif' font-weight="normal" font-size="35.0" fill="#667a95">5m</text>
<text transform="translate(966.32,230.90) scale(1.0937,1)" font-family='"Liberation Sans", sans-serif' font-weight="normal" font-size="35.0" fill="#667a95">15m</text>
<text transform="translate(1204.37,230.90) scale(1.2277,1)" font-family='"Liberation Sans", sans-serif' font-weight="normal" font-size="35.0" fill="#667a95">30m</text>
<text transform="translate(1438.96,230.90) scale(1.0118,1)" font-family='"Liberation Sans", sans-serif' font-weight="normal" font-size="35.0" fill="#667a95">1h</text>
<text transform="translate(1711.56,236.40) scale(1.1396,1)" font-family='"Liberation Sans", sans-serif' font-weight="bold" font-size="44.0" fill="#ffffff">4h</text>
<text transform="translate(1925.95,231.00) scale(1.0175,1)" font-family='"Liberation Sans", sans-serif' font-weight="normal" font-size="35.0" fill="#667a95">1D</text>
<text transform="translate(2162.23,231.00) scale(1.0560,1)" font-family='"Liberation Sans", sans-serif' font-weight="normal" font-size="35.0" fill="#667a95">1W</text>
<text transform="translate(2400.41,231.00) scale(1.1980,1)" font-family='"Liberation Sans", sans-serif' font-weight="normal" font-size="35.0" fill="#667a95">MN</text>
<g clip-path="url(#cy66)"><text transform="translate(2485.79,295.70) scale(1.1111,1)" font-family='"Liberation Sans", sans-serif' font-weight="normal" font-size="30.0" fill="#abb5c3">66.000</text></g>
<text transform="translate(2485.67,429.90) scale(1.1333,1)" font-family='"Liberation Sans", sans-serif' font-weight="normal" font-size="30.0" fill="#abb5c3">64.000</text>
<text transform="translate(2485.93,568.60) scale(1.0722,1)" font-family='"Liberation Sans", sans-serif' font-weight="normal" font-size="30.0" fill="#abb5c3">62.000</text>
<text transform="translate(2485.93,675.20) scale(1.0722,1)" font-family='"Liberation Sans", sans-serif' font-weight="normal" font-size="30.0" fill="#abb5c3">60.500</text>
<g clip-path="url(#cm1)"><text transform="translate(2487.42,795.90) scale(0.9917,1)" font-family='"Liberation Sans", sans-serif' font-weight="normal" font-size="30.0" fill="#abb5c3">1.000</text></g>
<text transform="translate(2486.41,879.90) scale(1.0890,1)" font-family='"Liberation Sans", sans-serif' font-weight="normal" font-size="30.0" fill="#abb5c3">0.500</text>
<text transform="translate(2486.37,962.50) scale(1.1301,1)" font-family='"Liberation Sans", sans-serif' font-weight="normal" font-size="30.0" fill="#abb5c3">0.000</text>
<text transform="translate(313.19,1075.00) scale(1.0556,1)" font-family='"Liberation Sans", sans-serif' font-weight="normal" font-size="30.0" fill="#a9b4c2">14/05</text>
<text transform="translate(584.87,1075.00) scale(1.0153,1)" font-family='"Liberation Sans", sans-serif' font-weight="normal" font-size="30.0" fill="#a9b4c2">19/05</text>
<text transform="translate(852.91,1075.00) scale(1.0877,1)" font-family='"Liberation Sans", sans-serif' font-weight="normal" font-size="30.0" fill="#a9b4c2">22/05</text>
<text transform="translate(1123.72,1075.00) scale(1.0795,1)" font-family='"Liberation Sans", sans-serif' font-weight="normal" font-size="30.0" fill="#a9b4c2">27/05</text>
<text transform="translate(1463.45,1075.00) scale(1.1547,1)" font-family='"Liberation Sans", sans-serif' font-weight="normal" font-size="30.0" fill="#a5b0be" stroke="#a5b0be" stroke-width="0.5">06/2025</text>
<text transform="translate(1753.86,1075.00) scale(1.1370,1)" font-family='"Liberation Sans", sans-serif' font-weight="normal" font-size="30.0" fill="#a9b4c2">05/06</text>
<text transform="translate(2026.90,1075.00) scale(1.0500,1)" font-family='"Liberation Sans", sans-serif' font-weight="normal" font-size="30.0" fill="#a9b4c2">10/06</text>
<text transform="translate(2298.54,1075.00) scale(1.0292,1)" font-family='"Liberation Sans", sans-serif' font-weight="normal" font-size="30.0" fill="#a9b4c2">13/06</text>
<text transform="translate(248.63,367.20) scale(1.0912,1)" font-family='"Liberation Sans", sans-serif' font-weight="bold" font-size="39.0" fill="#3b3b3d">MA</text>
<text transform="translate(322.80,364.00) scale(0.9504,1)" font-family='"Liberation Sans", sans-serif' font-weight="normal" font-size="29.7" fill="#3b3b3d">(5,10,30)</text>
<text transform="translate(248.79,855.00) scale(1.0705,1)" font-family='"Liberation Sans", sans-serif' font-weight="bold" font-size="39.0" fill="#3b3b3d">MACD</text>
<text transform="translate(381.43,852.30) scale(0.9353,1)" font-family='"Liberation Sans", sans-serif' font-weight="normal" font-size="30.0" fill="#3b3b3d">(12,26,9)</text>
<text transform="translate(1551.84,701.00) scale(0.8620,1)" font-family='"Liberation Sans", sans-serif' font-weight="normal" font-size="30.8" fill="#121826">60.141</text>
<text transform="translate(2136.74,315.00) scale(0.9304,1)" font-family='"Liberation Sans", sans-serif' font-weight="normal" font-size="31.0" fill="#121826">65.716</text>
<text transform="translate(272.70,717.90) scale(0.9956,1)" font-family='"Liberation Sans", sans-serif' font-weight="bold" font-size="33.0" fill="#c9d0da">S T A R</text>
<text transform="translate(272.70,747.30) scale(0.9956,1)" font-family='"Liberation Sans", sans-serif' font-weight="normal" font-size="28.0" fill="#dde2e8">TRADER</text>
</g>
<defs><clipPath id="cy66"><rect x="2470" y="278.75" width="152" height="100"/></clipPath><clipPath id="cm1"><rect x="2470" y="777.6" width="152" height="60"/></clipPath></defs>
</svg></body></html>
